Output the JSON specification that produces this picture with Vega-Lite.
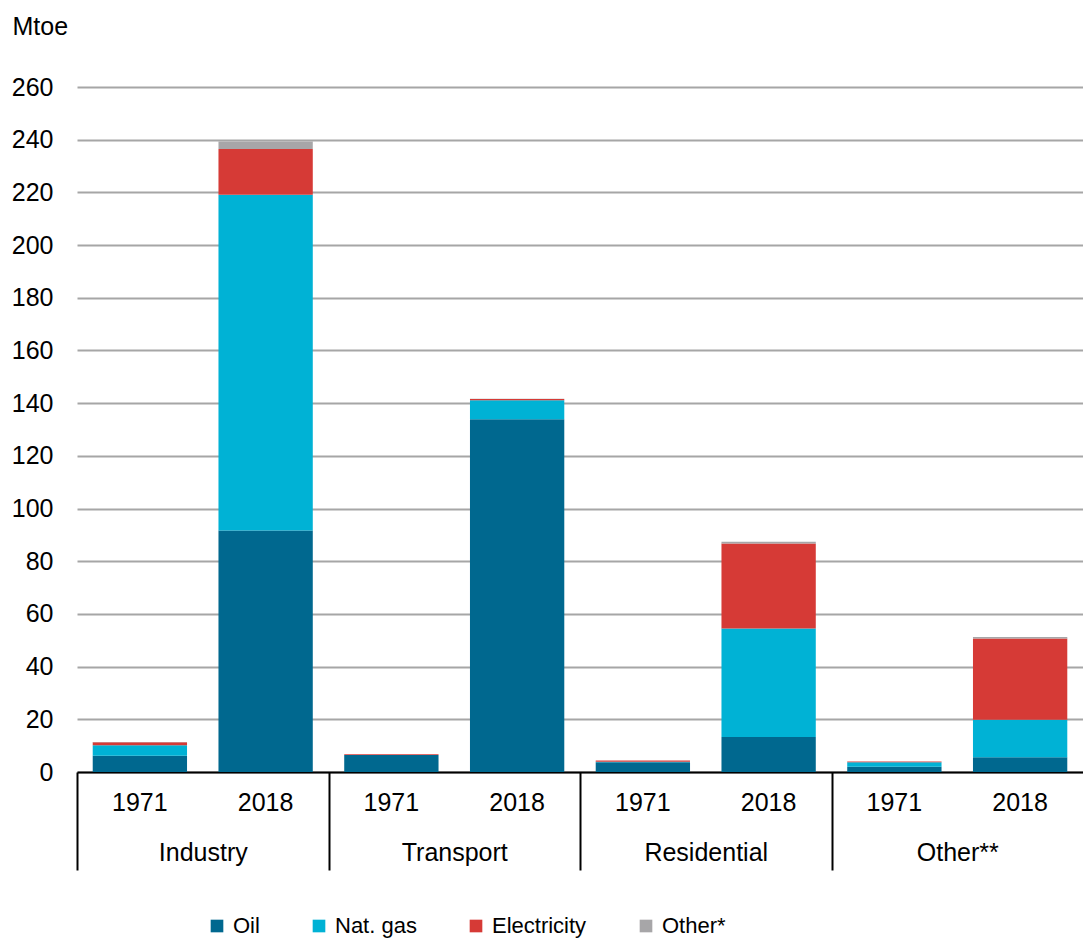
{
  "$schema": "https://vega.github.io/schema/vega-lite/v6.json",
  "autosize": "none",
  "width": 1006,
  "height": 685,
  "padding": {"left": 77, "top": 87, "right": 0, "bottom": 166},
  "background": "white",
  "config": {
    "view": {"stroke": null},
    "font": "Liberation Sans",
    "axis": {"labelFont": "Liberation Sans", "titleFont": "Liberation Sans", "labelColor": "black", "titleColor": "black"}
  },
  "data": {
    "values": [
      {"sector": "Industry", "year": "1971", "fuel": "Oil", "value": 6.2},
      {"sector": "Industry", "year": "1971", "fuel": "Nat. gas", "value": 4.0},
      {"sector": "Industry", "year": "1971", "fuel": "Electricity", "value": 1.1},
      {"sector": "Industry", "year": "1971", "fuel": "Other*", "value": 0.1},
      {"sector": "Industry", "year": "2018", "fuel": "Oil", "value": 91.7},
      {"sector": "Industry", "year": "2018", "fuel": "Nat. gas", "value": 127.4},
      {"sector": "Industry", "year": "2018", "fuel": "Electricity", "value": 17.4},
      {"sector": "Industry", "year": "2018", "fuel": "Other*", "value": 2.8},
      {"sector": "Transport", "year": "1971", "fuel": "Oil", "value": 6.5},
      {"sector": "Transport", "year": "1971", "fuel": "Nat. gas", "value": 0.0},
      {"sector": "Transport", "year": "1971", "fuel": "Electricity", "value": 0.2},
      {"sector": "Transport", "year": "1971", "fuel": "Other*", "value": 0.0},
      {"sector": "Transport", "year": "2018", "fuel": "Oil", "value": 133.9},
      {"sector": "Transport", "year": "2018", "fuel": "Nat. gas", "value": 7.2},
      {"sector": "Transport", "year": "2018", "fuel": "Electricity", "value": 0.5},
      {"sector": "Transport", "year": "2018", "fuel": "Other*", "value": 0.1},
      {"sector": "Residential", "year": "1971", "fuel": "Oil", "value": 3.7},
      {"sector": "Residential", "year": "1971", "fuel": "Nat. gas", "value": 0.2},
      {"sector": "Residential", "year": "1971", "fuel": "Electricity", "value": 0.5},
      {"sector": "Residential", "year": "1971", "fuel": "Other*", "value": 0.0},
      {"sector": "Residential", "year": "2018", "fuel": "Oil", "value": 13.3},
      {"sector": "Residential", "year": "2018", "fuel": "Nat. gas", "value": 41.2},
      {"sector": "Residential", "year": "2018", "fuel": "Electricity", "value": 32.2},
      {"sector": "Residential", "year": "2018", "fuel": "Other*", "value": 0.7},
      {"sector": "Other**", "year": "1971", "fuel": "Oil", "value": 2.0},
      {"sector": "Other**", "year": "1971", "fuel": "Nat. gas", "value": 1.7},
      {"sector": "Other**", "year": "1971", "fuel": "Electricity", "value": 0.3},
      {"sector": "Other**", "year": "1971", "fuel": "Other*", "value": 0.0},
      {"sector": "Other**", "year": "2018", "fuel": "Oil", "value": 5.6},
      {"sector": "Other**", "year": "2018", "fuel": "Nat. gas", "value": 14.2},
      {"sector": "Other**", "year": "2018", "fuel": "Electricity", "value": 30.9},
      {"sector": "Other**", "year": "2018", "fuel": "Other*", "value": 0.5}
    ]
  },
  "transform": [
    {"calculate": "datum.sector + '|' + datum.year", "as": "key"},
    {"calculate": "indexof(['Oil', 'Nat. gas', 'Electricity', 'Other*'], datum.fuel)", "as": "fuelOrder"}
  ],
  "layer": [
    {
      "mark": {"type": "bar"},
      "encoding": {
        "x": {
          "field": "key",
          "type": "nominal",
          "sort": ["Industry|1971", "Industry|2018", "Transport|1971", "Transport|2018", "Residential|1971", "Residential|2018", "Other**|1971", "Other**|2018"],
          "scale": {"paddingInner": 0.25, "paddingOuter": 0.125},
          "axis": {
            "orient": "bottom",
            "title": null,
            "labelExpr": "slice(datum.label, -4)",
            "labelAngle": 0,
            "labelFontSize": 25,
            "labelPadding": 18,
            "ticks": false,
            "grid": false,
            "domain": true,
            "domainColor": "black",
            "domainWidth": 2
          }
        },
        "y": {
          "field": "value",
          "type": "quantitative",
          "stack": "zero",
          "scale": {"domain": [0, 260], "nice": false},
          "axis": {
            "title": "Mtoe",
            "titleAngle": 0,
            "titleAlign": "left",
            "titleBaseline": "alphabetic",
            "titleX": -65,
            "titleY": -53,
            "titleFontSize": 25,
            "titleFontWeight": "normal",
            "values": [0, 20, 40, 60, 80, 100, 120, 140, 160, 180, 200, 220, 240, 260],
            "labelFontSize": 25,
            "labelPadding": 24,
            "ticks": false,
            "domain": false,
            "grid": true,
            "gridColor": "#a6a6a6",
            "gridWidth": 2
          }
        },
        "order": {"field": "fuelOrder", "type": "quantitative", "sort": "ascending"},
        "color": {
          "field": "fuel",
          "type": "nominal",
          "sort": ["Oil", "Nat. gas", "Electricity", "Other*"],
          "scale": {
            "domain": ["Oil", "Nat. gas", "Electricity", "Other*"],
            "range": ["#00688f", "#00b2d5", "#d63a36", "#a7a6a8"]
          },
          "legend": {
            "title": null,
            "orient": "none",
            "direction": "horizontal",
            "legendX": 129,
            "legendY": 828,
            "symbolType": "square",
            "symbolSize": 160,
            "symbolStrokeWidth": 0,
            "labelFontSize": 22,
            "labelFont": "Liberation Sans",
            "labelColor": "black",
            "labelOffset": 5,
            "columnPadding": 48
          }
        }
      }
    },
    {
      "mark": {"type": "bar", "opacity": 0},
      "encoding": {
        "x": {
          "field": "sector",
          "type": "nominal",
          "sort": ["Industry", "Transport", "Residential", "Other**"],
          "scale": {"paddingInner": 0, "paddingOuter": 0},
          "axis": {
            "orient": "bottom",
            "title": null,
            "labelAngle": 0,
            "labelFontSize": 25,
            "domain": false,
            "grid": false,
            "ticks": true,
            "tickBand": "extent",
            "tickSize": 98,
            "tickWidth": 2,
            "tickColor": "black",
            "tickOpacity": {"condition": {"test": "datum.value === 'Other**'", "value": 0}, "value": 1},
            "labelPadding": -30
          }
        }
      }
    }
  ],
  "resolve": {"scale": {"x": "independent"}, "axis": {"x": "independent"}}
}
